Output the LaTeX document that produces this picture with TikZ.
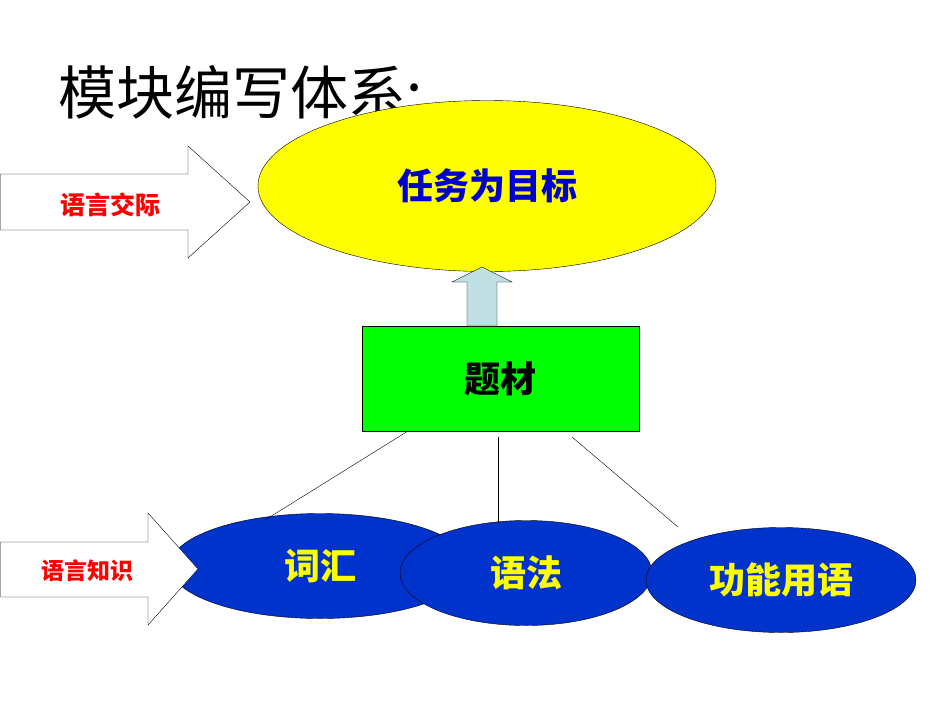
\documentclass[tikz,border=0pt]{standalone}
\usepackage{fontspec}
\setmainfont{Liberation Sans}
\newfontfamily\cjk{Noto Sans CJK SC}
\usetikzlibrary{shapes.geometric}
\usetikzlibrary{calc}

\definecolor{goalfill}{HTML}{FFFF00}
\definecolor{goaltext}{HTML}{0000CC}
\definecolor{topicfill}{HTML}{00FF00}
\definecolor{knowfill}{HTML}{0033CC}
\definecolor{upfill}{HTML}{C0E0E4}
\definecolor{labelred}{HTML}{FF0000}

\begin{document}
\begin{tikzpicture}[x=1pt, y=-1pt,
    goal/.style={ellipse, draw, thin, fill=goalfill, inner sep=0pt,
      minimum width=458pt, minimum height=171pt,
      font=\cjk\bfseries\fontsize{36}{40}\selectfont, text=goaltext},
    topic/.style={rectangle, draw, thin, fill=topicfill, inner sep=0pt,
      minimum width=277pt, minimum height=105pt,
      font=\cjk\bfseries\fontsize{36}{40}\selectfont, text=black},
    know/.style={ellipse, draw, thin, fill=knowfill, inner sep=0pt,
      minimum height=105pt,
      font=\cjk\bfseries\fontsize{36}{40}\selectfont, text=goalfill},
    blockarrow/.style={draw, thin, fill=white},
    arrowtext/.style={font=\cjk\bfseries\fontsize{23}{28}\selectfont, text=labelred},
    link/.style={draw, thin}]
  \useasboundingbox (0,0) rectangle (950,713);

  % title
  \node[anchor=west, font=\cjk\fontsize{58}{64}\selectfont] (title) at (55,92) {模块编写体系:};

  % goal and topic
  \node[goal] (goal) at (487,186) {任务为目标};
  \node[topic] (topic) at (500.5,378.5) {题材};

  % up arrow from topic to goal
  \draw[thin, fill=upfill] (467,326) -- (467,282) -- (452,282) -- (482,267)
    -- (512,282) -- (497,282) -- (497,326) -- cycle;

  % knowledge ellipses
  \node[know, minimum width=300pt] (vocab) at (320,566) {词汇};
  \node[know, minimum width=252pt] (grammar) at (526,573) {语法};
  \node[know, minimum width=270pt] (func) at (781,580) {功能用语};

  % links
  \coordinate (v0) at (408,431);
  \coordinate (v1) at (265,520);
  \coordinate (g0) at (498,437);
  \coordinate (g1) at (498,523);
  \coordinate (f0) at (572,437);
  \coordinate (f1) at (678,527);
  \draw[link] (v0) -- (v1);
  \draw[link] (g0) -- (g1);
  \draw[link] (f0) -- (f1);

  % block arrows on the left
  \draw[blockarrow] (0.5,174) -- (188,174) -- (188,146) -- (250,202)
    -- (188,258) -- (188,230) -- (0.5,230) -- cycle;
  \node[arrowtext, font=\cjk\bfseries\fontsize{25}{30}\selectfont] (talk) at (110,205) {语言交际};

  \draw[blockarrow] (0.5,542) -- (148,542) -- (148,513) -- (198,569)
    -- (148,625) -- (148,597) -- (0.5,597) -- cycle;
  \node[arrowtext] (knowledge) at (87,571) {语言知识};
\end{tikzpicture}
\end{document}
